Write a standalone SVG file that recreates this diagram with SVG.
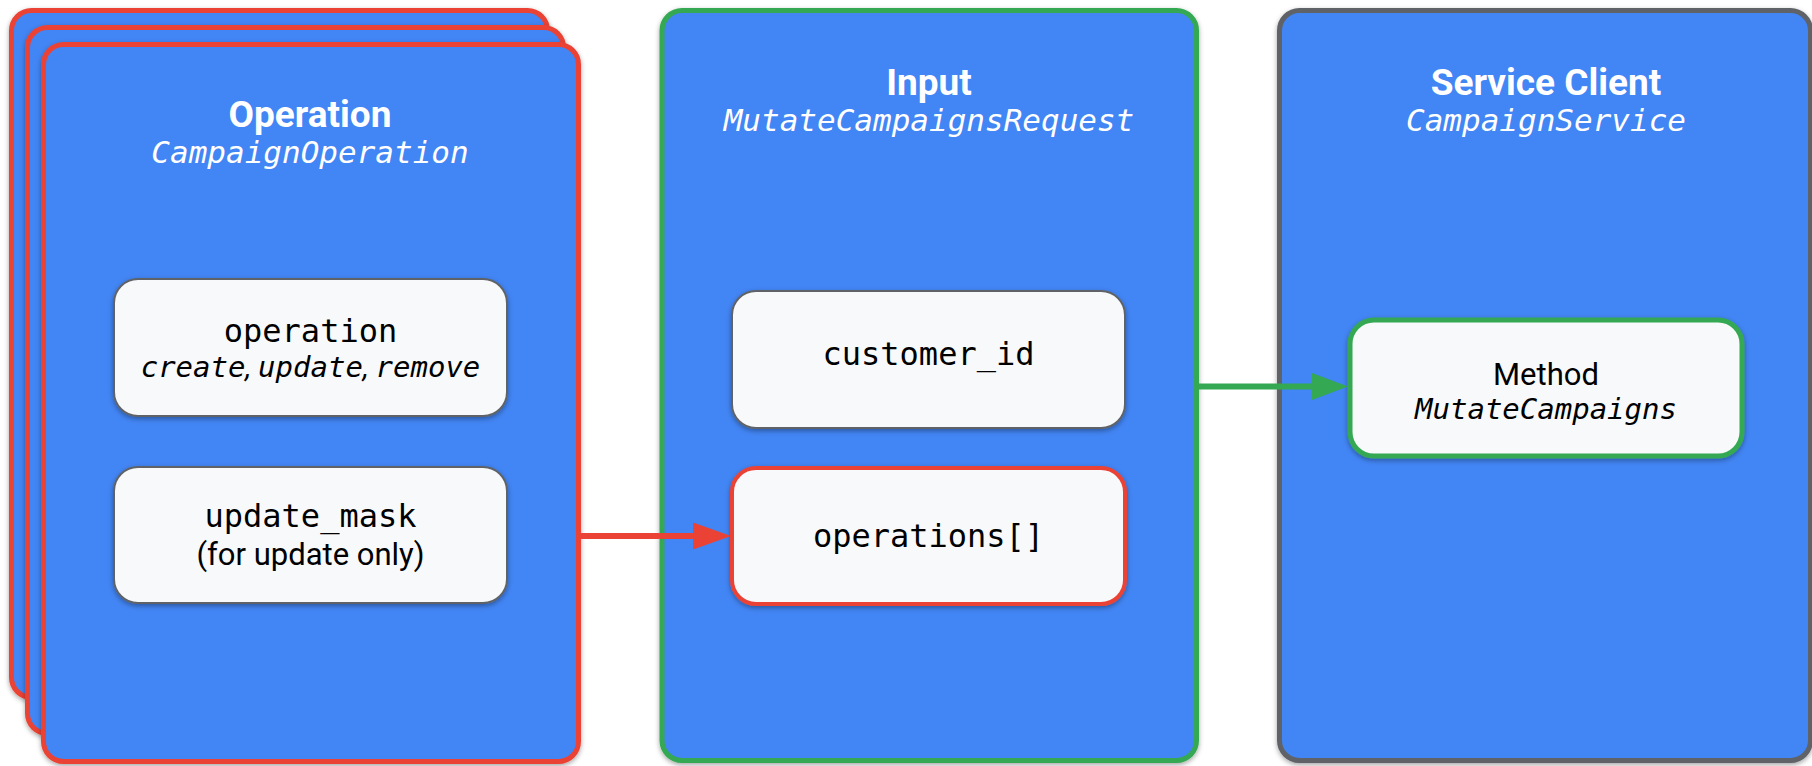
<svg xmlns="http://www.w3.org/2000/svg" width="1812" height="766" viewBox="0 0 1812 766">
  <defs>
    <filter id="shadow" x="-10%" y="-10%" width="120%" height="120%">
      <feDropShadow dx="0" dy="2" stdDeviation="2.5" flood-color="#000" flood-opacity="0.35"/>
    </filter>
    <style>
      .card { fill: #4285F4; stroke-width: 5; filter: url(#shadow); }
      .red { stroke: #EA4335; }
      .green { stroke: #34A853; }
      .grey { stroke: #5F6368; }
      .field { fill: #F8F9FA; filter: url(#shadow); }
      .title { font-family: Roboto, "Liberation Sans", sans-serif; font-weight: bold; font-size: 37px; fill: #fff; text-anchor: middle; }
      .sub { font-family: "DejaVu Sans Mono", "Liberation Mono", monospace; font-style: italic; font-size: 31px; fill: #fff; text-anchor: middle; }
      .mono { font-family: "DejaVu Sans Mono", "Liberation Mono", monospace; font-size: 32px; fill: #000; text-anchor: middle; }
      .monoi { font-family: "DejaVu Sans Mono", "Liberation Mono", monospace; font-style: italic; font-size: 29px; fill: #000; text-anchor: middle; }
      .sans { font-family: Roboto, "Liberation Sans", sans-serif; font-size: 31px; fill: #000; text-anchor: middle; }
      .conn { stroke-width: 6; fill: none; }
    </style>
  </defs>

  <!-- Operation: stack of three cards -->
  <g id="operation">
    <rect class="card red" x="11.5" y="10.5" width="536" height="687" rx="20"/>
    <rect class="card red" x="27.5" y="27.5" width="536" height="706" rx="20"/>
    <rect class="card red" x="43.5" y="44.5" width="535" height="717" rx="20"/>
    <text class="title" x="310" y="127">Operation</text>
    <text class="sub" x="310" y="163">CampaignOperation</text>
  </g>

  <g id="field-operation">
    <rect class="field grey" x="114" y="279" width="393" height="137" rx="24" stroke-width="2"/>
    <text class="mono" x="310.5" y="342">operation</text>
    <text class="monoi" x="310.5" y="377">create<tspan font-family="Roboto, 'Liberation Sans', sans-serif">, </tspan>update<tspan font-family="Roboto, 'Liberation Sans', sans-serif">, </tspan>remove</text>
  </g>

  <g id="field-update-mask">
    <rect class="field grey" x="114" y="467" width="393" height="136" rx="24" stroke-width="2"/>
    <text class="mono" x="310.5" y="527">update_mask</text>
    <text class="sans" x="310.5" y="565">(for update only)</text>
  </g>

  <!-- Input request -->
  <g id="input">
    <rect class="card green" x="662" y="10.5" width="534.5" height="750" rx="20"/>
    <text class="title" x="929" y="95">Input</text>
    <text class="sub" x="929" y="131">MutateCampaignsRequest</text>
  </g>

  <g id="field-customer-id">
    <rect class="field grey" x="732" y="291" width="393" height="137" rx="24" stroke-width="2"/>
    <text class="mono" x="928.5" y="365">customer_id</text>
  </g>

  <g id="field-operations">
    <rect class="field red" x="732" y="468" width="393" height="136" rx="24" stroke-width="4"/>
    <text class="mono" x="928.5" y="547" font-size="29">operations[]</text>
  </g>

  <!-- Service client -->
  <g id="service-client">
    <rect class="card grey" x="1279.5" y="10.5" width="531" height="750" rx="20"/>
    <text class="title" x="1546" y="95">Service Client</text>
    <text class="sub" x="1546" y="131">CampaignService</text>
  </g>

  <g id="method">
    <rect class="field green" x="1350" y="320" width="392" height="136" rx="24" stroke-width="5"/>
    <text class="sans" x="1546" y="385">Method</text>
    <text class="monoi" x="1546" y="419">MutateCampaigns</text>
  </g>

  <!-- Connectors -->
  <g id="connectors">
    <line class="conn red" x1="578.5" y1="536" x2="695" y2="536"/>
    <polygon points="693,522.5 731,536 693,549.5" fill="#EA4335"/>
    <line class="conn green" x1="1196.5" y1="386.5" x2="1314" y2="386.5"/>
    <polygon points="1312,373 1348,386.5 1312,400" fill="#34A853"/>
  </g>
</svg>
